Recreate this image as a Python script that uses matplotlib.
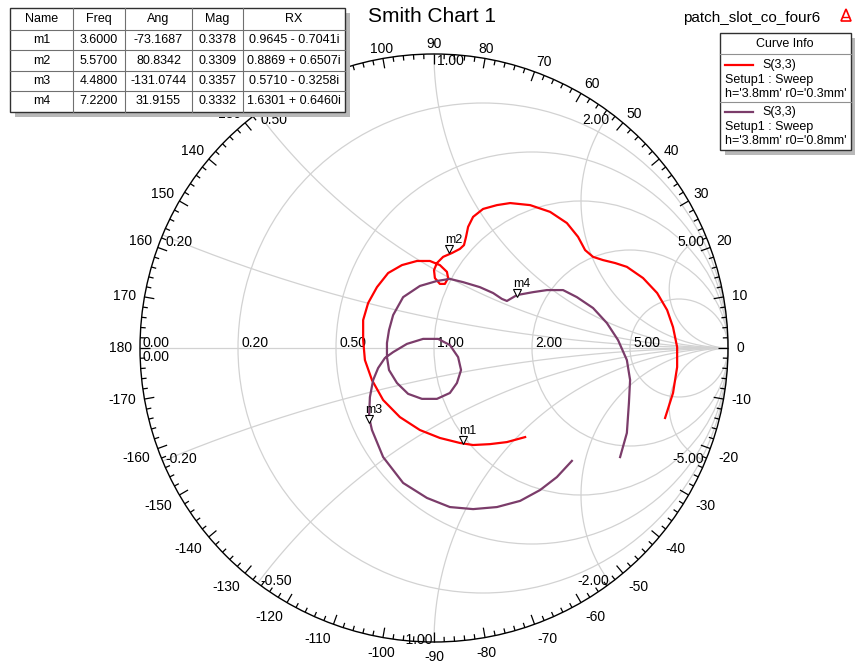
import numpy as np
import matplotlib.pyplot as plt
from matplotlib.patches import Circle, Rectangle, Polygon
from matplotlib.collections import LineCollection

plt.rcParams['font.family'] = ['Liberation Sans', 'DejaVu Sans']

# S(3,3) reflection coefficient, r0 = 0.3mm (real / imaginary part)
red_re = [0.310, 0.248, 0.190, 0.133, 0.088, 0.020, -0.048, -0.116, -0.173, -0.211,
          -0.235, -0.241, -0.241, -0.224, -0.194, -0.156, -0.109, -0.058, -0.014, 0.020,
          0.044, 0.048, 0.037, 0.020, 0.003, 0.000, 0.010, 0.031, 0.061, 0.088,
          0.102, 0.109, 0.116, 0.133, 0.167, 0.214, 0.259, 0.327, 0.395, 0.452,
          0.490, 0.514, 0.541, 0.575, 0.616, 0.656, 0.711, 0.759, 0.793, 0.813,
          0.827, 0.827, 0.813, 0.786]
red_im = [-0.303, -0.320, -0.327, -0.330, -0.323, -0.306, -0.279, -0.235, -0.177, -0.109,
          -0.041, 0.027, 0.095, 0.153, 0.207, 0.255, 0.282, 0.296, 0.296, 0.282,
          0.259, 0.238, 0.218, 0.218, 0.238, 0.265, 0.289, 0.310, 0.323, 0.337,
          0.350, 0.378, 0.412, 0.446, 0.473, 0.486, 0.493, 0.486, 0.463, 0.425,
          0.378, 0.333, 0.310, 0.299, 0.289, 0.276, 0.238, 0.187, 0.129, 0.071,
          0.003, -0.065, -0.153, -0.238]

# S(3,3) reflection coefficient, r0 = 0.8mm
purple_re = [0.469, 0.418, 0.361, 0.293, 0.214, 0.133, 0.054, -0.024, -0.105, -0.173,
             -0.211, -0.221, -0.218, -0.207, -0.190, -0.167, -0.139, -0.092, -0.037, 0.014,
             0.054, 0.082, 0.092, 0.078, 0.054, 0.010, -0.041, -0.088, -0.126, -0.153,
             -0.160, -0.160, -0.153, -0.139, -0.105, -0.048, 0.010, 0.054, 0.099, 0.156,
             0.201, 0.231, 0.248, 0.282, 0.337, 0.384, 0.439, 0.486, 0.541, 0.588,
             0.626, 0.656, 0.667, 0.663, 0.656, 0.633]
purple_im = [-0.384, -0.439, -0.483, -0.520, -0.541, -0.548, -0.541, -0.510, -0.459, -0.371,
             -0.279, -0.235, -0.167, -0.109, -0.068, -0.034, -0.014, 0.014, 0.031, 0.031,
             0.010, -0.031, -0.075, -0.119, -0.153, -0.173, -0.173, -0.156, -0.119, -0.075,
             -0.031, 0.017, 0.061, 0.112, 0.173, 0.211, 0.228, 0.235, 0.224, 0.207,
             0.187, 0.167, 0.160, 0.180, 0.190, 0.197, 0.197, 0.173, 0.136, 0.085,
             0.027, -0.041, -0.109, -0.187, -0.289, -0.371]

# marker table
mk_names = ['m1', 'm2', 'm3', 'm4']
mk_freq = [3.6, 5.57, 4.48, 7.22]
mk_ang = [-73.1687, 80.8342, -131.0744, 31.9155]
mk_mag = [0.3378, 0.3309, 0.3357, 0.3332]
mk_r = [0.9645, 0.8869, 0.5710, 1.6301]
mk_x = [-0.7041, 0.6507, -0.3258, 0.6460]

grid_vals = [0.2, 0.5, 1.0, 2.0, 5.0]
# rim angles that sit underneath the marker table
hidden_angles = [110, 120]

RED = '#ff0000'
PURPLE = '#7b3c6a'
GRID = '#d2d2d2'

W, H = 855, 664
cx, cy, R = 434, 348, 294   # chart centre and radius in pixels

fig = plt.figure(figsize=(W / 100, H / 100), dpi=100)
ax = fig.add_axes([0, 0, 1, 1])
ax.set_xlim(-cx / R, (W - cx) / R)
ax.set_ylim((cy - H) / R, cy / R)
ax.axis('off')
px = 1.0 / R

# constant resistance circles
for r in grid_vals:
    ax.add_patch(Circle((r / (1 + r), 0), 1 / (1 + r), fill=False, ec=GRID, lw=0.9, zorder=1))
# constant reactance arcs
rr = np.concatenate([[0], np.geomspace(1e-3, 1e4, 800)])
for x in grid_vals:
    for s in (1, -1):
        z = rr + 1j * s * x
        g = (z - 1) / (z + 1)
        ax.plot(g.real, g.imag, color=GRID, lw=0.9, zorder=1)
ax.plot([-1, 1], [0, 0], color=GRID, lw=0.9, zorder=1)
ax.add_patch(Circle((0, 0), 1, fill=False, ec='black', lw=1.0, zorder=3))

# angle ticks on the rim
segs = []
for deg in range(-180, 180, 2):
    t = np.radians(deg)
    L = 10 * px if deg % 10 == 0 else 5 * px
    segs.append([(np.cos(t), np.sin(t)), ((1 - L) * np.cos(t), (1 - L) * np.sin(t))])
ax.add_collection(LineCollection(segs, colors='black', lw=0.9, zorder=3))

for deg in range(-170, 190, 10):
    if deg in hidden_angles:
        continue
    t = np.radians(deg)
    c, s = np.cos(t), np.sin(t)
    ha = 'left' if c > 0.2 else ('right' if c < -0.2 else 'center')
    if s > 0.2:
        va, rad = 'baseline', 1.02
    elif s < -0.2:
        va, rad = 'top', 1.028
    else:
        va, rad = 'center', 1.028
    ax.text(rad * c, rad * s, str(deg), ha=ha, va=va, fontsize=10, zorder=4)

# resistance labels along the real axis
ax.text(-1 + 2 * px, 1 * px, '0.00', ha='left', va='baseline', fontsize=10, zorder=4)
ax.text(-1 + 2 * px, -2 * px, '0.00', ha='left', va='top', fontsize=10, zorder=4)
for r in grid_vals:
    ax.text((r - 1) / (r + 1) + 3 * px, 1 * px, f'{r:.2f}', ha='left', va='baseline',
            fontsize=10, zorder=4)

# reactance labels at the rim
for x in grid_vals:
    for s in (1, -1):
        gx = (x * x - 1) / (x * x + 1)
        gy = s * 2 * x / (x * x + 1)
        if s > 0:
            ha = 'left' if gx <= 0.01 else 'right'
            ax.text(gx + (3 if ha == 'left' else -1) * px, gy, f'{x:.2f}',
                    ha=ha, va='top', fontsize=10, zorder=4)
        else:
            ha = 'left' if gx < -0.01 else 'right'
            ax.text(gx + (3 if ha == 'left' else -1) * px, gy - 2 * px, f'-{x:.2f}',
                    ha=ha, va='baseline', fontsize=10, zorder=4)

# traces
ax.plot(red_re, red_im, color=RED, lw=1.6, solid_joinstyle='round', zorder=5)
ax.plot(purple_re, purple_im, color=PURPLE, lw=1.6, solid_joinstyle='round', zorder=5)

# markers
for name, mag, ang in zip(mk_names, mk_mag, mk_ang):
    gx = mag * np.cos(np.radians(ang))
    gy = mag * np.sin(np.radians(ang))
    ax.plot(gx, gy + 3 * px, marker='v', ms=6, mfc='white', mec='black', mew=0.8, zorder=6)
    ax.text(gx - 4 * px, gy + 9 * px, name, ha='left', va='baseline', fontsize=9, zorder=6)

# overlay in pixel coordinates for title, table and legend
ov = fig.add_axes([0, 0, 1, 1], zorder=5)
ov.set_xlim(0, W)
ov.set_ylim(H, 0)
ov.axis('off')

ov.text(432, 17, 'Smith Chart 1', ha='center', va='center', fontsize=15)
ov.text(752, 18, 'patch_slot_co_four6', ha='center', va='center', fontsize=11)
ov.add_patch(Polygon([(841, 21), (846, 9), (851, 21)], closed=True, fc='none', ec=RED, lw=1.2))
ov.plot([843, 849], [17, 17], color=RED, lw=1)

# marker table
col_x = [10, 73, 125, 192, 243, 345]
row_y = [8, 30, 50, 71, 91, 112]
ov.add_patch(Rectangle((15, 13), 335, 104, fc='#b8b8b8', ec='none'))
ov.add_patch(Rectangle((10, 8), 335, 104, fc='white', ec='#303030', lw=1))
for x in col_x[1:-1]:
    ov.plot([x, x], [8, 112], color='#707070', lw=0.8)
for y in row_y[1:-1]:
    ov.plot([10, 345], [y, y], color='#707070', lw=0.8)

header = ['Name', 'Freq', 'Ang', 'Mag', 'RX']
rows = [header]
for i in range(len(mk_names)):
    sign = '-' if mk_x[i] < 0 else '+'
    rows.append([mk_names[i], f'{mk_freq[i]:.4f}', f'{mk_ang[i]:.4f}', f'{mk_mag[i]:.4f}',
                 f'{mk_r[i]:.4f} {sign} {abs(mk_x[i]):.4f}i'])
for j, row in enumerate(rows):
    yc = (row_y[j] + row_y[j + 1]) / 2
    for k, cell in enumerate(row):
        xc = (col_x[k] + col_x[k + 1]) / 2
        ov.text(xc, yc, cell, ha='center', va='center', fontsize=9)

# curve info legend
ov.add_patch(Rectangle((725, 38), 131, 117, fc='#b8b8b8', ec='none', clip_on=False))
ov.add_patch(Rectangle((720, 33), 131, 117, fc='white', ec='#303030', lw=1))
ov.text(785, 44, 'Curve Info', ha='center', va='center', fontsize=9)
ov.plot([720, 851], [54, 54], color='#909090', lw=0.8)
ov.plot([720, 851], [102, 102], color='#909090', lw=0.8)
for y0, col, r0 in [(65, RED, '0.3mm'), (112, PURPLE, '0.8mm')]:
    ov.plot([725, 753], [y0, y0], color=col, lw=1.6)
    ov.text(762, y0, 'S(3,3)', ha='left', va='center', fontsize=9)
    ov.text(725, y0 + 15, 'Setup1 : Sweep', ha='left', va='center', fontsize=9)
    ov.text(725, y0 + 29, f"h='3.8mm' r0='{r0}'", ha='left', va='center', fontsize=9)

fig.savefig('out.png', dpi=100)
